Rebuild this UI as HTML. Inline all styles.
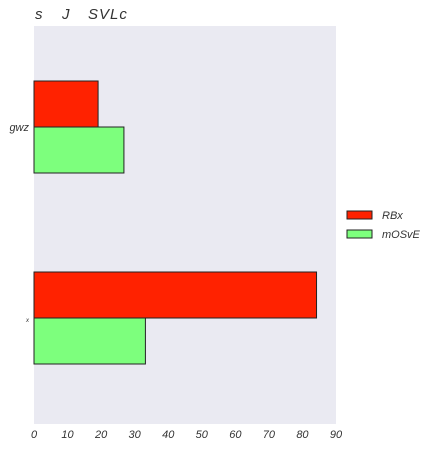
<!DOCTYPE html>
<html><head><meta charset="utf-8"><style>
body{margin:0;background:#fff;width:448px;height:448px;overflow:hidden}
text{font-family:"Liberation Sans","DejaVu Sans",sans-serif;font-style:italic;fill:#333}
</style></head><body>
<svg id="chart" width="448" height="448">
<rect x="34" y="26" width="302" height="398" fill="#eaeaf2"/>
<g font-size="15">
<text x="35" y="19" fill="#222">s</text>
<text x="62" y="19" fill="#222">J</text>
<text x="88" y="19" fill="#222" letter-spacing="1">SVLc</text>
</g>
<g id="bars"></g><g id="xt"></g><g id="yt"></g>
<g>
<rect x="347" y="211" width="25" height="8" fill="#ff2200" stroke="#222"/>
<text x="382" y="219" font-size="11">RBx</text>
<rect x="347" y="230" width="25" height="8" fill="#7dff7d" stroke="#222"/>
<text x="382" y="238" font-size="11">mOSvE</text>
</g>
</svg>
<script>
const categories=["gwz","x"];
const rbx=[19.1,84.2];
const mosve=[26.8,33.2];
const xticks=[0,10,20,30,40,50,60,70,80,90];
const ns="http://www.w3.org/2000/svg";
const X=v=>34+v*(302/90);
const Yc=i=>127+191*i;
const bh=46;
function mk(tag,attrs,parent){const e=document.createElementNS(ns,tag);for(const k in attrs)e.setAttribute(k,attrs[k]);document.getElementById(parent).appendChild(e);return e;}
categories.forEach((c,i)=>{
  const r=mk("rect",{x:X(0),y:Yc(i)-bh,width:X(rbx[i])-X(0),height:bh,fill:"#ff2200",stroke:"#222","stroke-width":1},"bars");
  
  
  const g=mk("rect",{x:X(0),y:Yc(i),width:X(mosve[i])-X(0),height:bh,fill:"#7dff7d",stroke:"#222","stroke-width":1},"bars");
  
  
  const t=mk("text",{x:29,y:Yc(i)+4,"font-size":i==0?11:6,"text-anchor":"end"},"yt");
  t.textContent=c;
  
  
});
xticks.forEach(v=>{
  const t=mk("text",{x:X(v),y:438,"font-size":11,"text-anchor":"middle"},"xt");
  t.textContent=v;
  
  
});
</script>
</body></html>
